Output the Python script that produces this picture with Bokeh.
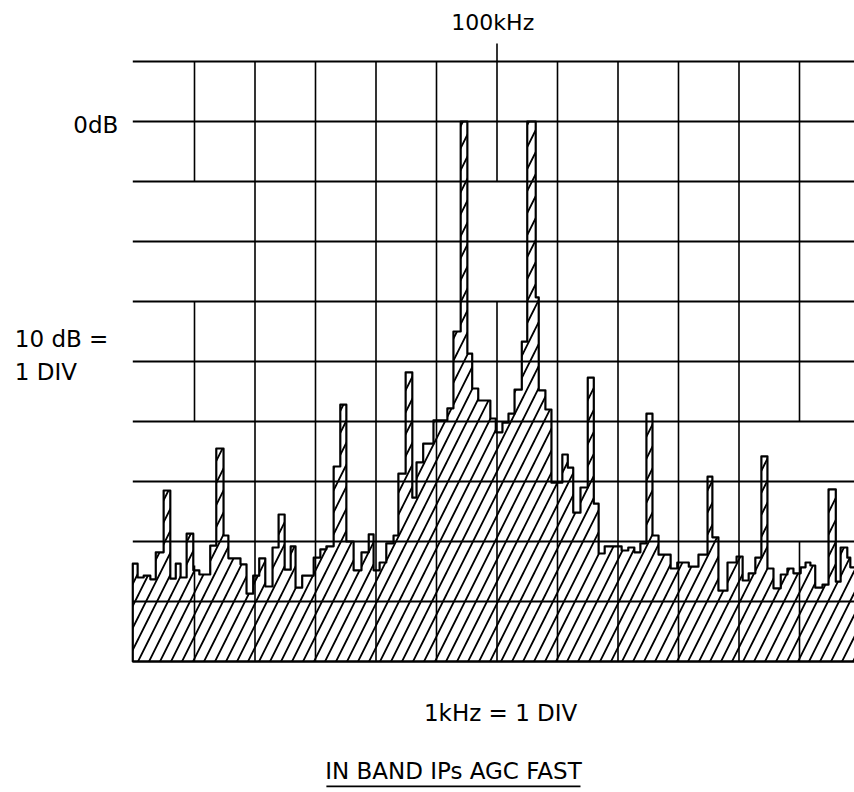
import numpy as np
from bokeh.plotting import figure
from bokeh.models import Range1d
from bokeh.embed import file_html
from bokeh.resources import INLINE
from bokeh.core.properties import value

# ---------------- data (kHz offset from 100 kHz, level in dB) ----------------
edges_khz = [-6.02, -5.94, -5.84, -5.73, -5.64, -5.51, -5.40, -5.31, -5.23, -5.13,
             -5.02, -4.92, -4.74, -4.64, -4.52, -4.44, -4.24, -4.14, -4.03, -3.93,
             -3.83, -3.71, -3.61, -3.51, -3.41, -3.33, -3.22, -3.03, -2.92, -2.82,
             -2.70, -2.59, -2.49, -2.37, -2.24, -2.12, -2.04, -1.94, -1.83, -1.71,
             -1.63, -1.51, -1.40, -1.33, -1.22, -1.05, -0.82, -0.72, -0.60, -0.49,
             -0.41, -0.31, -0.11, -0.02, 0.09, 0.19, 0.29, 0.41, 0.50, 0.64,
             0.69, 0.80, 0.90, 1.08, 1.17, 1.26, 1.38, 1.50, 1.60, 1.68,
             1.78, 2.06, 2.17, 2.27, 2.37, 2.47, 2.57, 2.67, 2.87, 2.98,
             3.17, 3.33, 3.48, 3.56, 3.66, 3.81, 3.96, 4.06, 4.16, 4.27,
             4.37, 4.47, 4.57, 4.69, 4.80, 4.90, 5.02, 5.10, 5.18, 5.26,
             5.38, 5.48, 5.60, 5.68, 5.79, 5.84, 5.95]

level_db = [-73.7, -76.0, -75.7, -76.3, -71.8, -61.5, -76.2, -73.7, -76.0, -68.7,
            -74.8, -75.5, -70.7, -54.5, -69.0, -72.8, -73.8, -78.7, -75.7, -72.8,
            -77.5, -71.0, -65.5, -74.7, -70.8, -77.7, -75.7, -72.7, -71.3, -70.8,
            -57.5, -47.2, -70.0, -74.8, -71.8, -68.8, -74.8, -73.5, -70.3, -69.0,
            -58.7, -41.8, -62.7, -56.8, -53.7, -49.8, -47.8, -35.0, 0.0, -38.7,
            -44.5, -46.5, -49.5, -51.8, -50.2, -48.7, -44.7, -36.7, 0.0, -29.3,
            -44.8, -48.0, -60.2, -55.5, -57.7, -65.2, -61.0, -42.7, -63.7, -72.0,
            -70.8, -71.5, -71.0, -71.8, -70.3, -48.7, -69.0, -72.2, -74.5, -73.5,
            -74.2, -72.2, -59.2, -69.3, -78.2, -73.5, -72.5, -76.5, -75.3, -72.7,
            -55.8, -74.5, -77.8, -75.5, -74.5, -75.3, -74.3, -73.5, -74.0, -77.7,
            -77.2, -61.3, -76.7, -71.0, -72.7, -74.3]

floor_db = -90.0
h_lines_db = [10, 0, -10, -20, -30, -40, -50, -60, -70, -80, -90]
grid_left_khz = -6.02
grid_right_khz = 5.95

# vertical graticule pieces as drawn (x in kHz, from dB, to dB)
v_seg_khz = [-5, -5, -5, -4, -3, -2, -1, 0, 0, 1, 2, 3, 4, 5, 5]
v_seg_from = [-10, -50, -90, -90, -90, -90, -90, -30, -90, -90, -90, -90, -90, -50, -90]
v_seg_to = [10, -30, -74, 10, 10, 10, 10, -90, 13, 10, 10, 10, 10, 10, -70]
# the centre line is broken between -10 and -30 dB
v_gap_centre = (-10, -30)

# ---------------- figure ----------------
PX_PER_KHZ = 60.5
PX_PER_DB = 6.0
X0_PX = 496.5
Y0_PX = 121.0
W, H = 854, 792

p = figure(width=W, height=H, output_backend="svg", toolbar_location=None,
           x_range=Range1d(-X0_PX / PX_PER_KHZ, (W - X0_PX) / PX_PER_KHZ),
           y_range=Range1d(-(H - Y0_PX) / PX_PER_DB, Y0_PX / PX_PER_DB),
           min_border=0)
p.axis.visible = False
p.grid.visible = False
p.outline_line_color = None
p.background_fill_color = "white"
p.border_fill_color = "white"

# step outline polygon of the spectrum
xs = [edges_khz[0]]
ys = [floor_db]
for i, lv in enumerate(level_db):
    xs += [edges_khz[i], edges_khz[i + 1]]
    ys += [lv, lv]
xs.append(edges_khz[-1])
ys.append(floor_db)

p.patch(xs, ys, fill_color=None, hatch_pattern="/", hatch_color="black",
        hatch_weight=1.8, hatch_scale=22, line_color="black", line_width=2.2,
        line_join="round")

# grid
hx0 = [grid_left_khz] * len(h_lines_db)
hx1 = [grid_right_khz] * len(h_lines_db)
p.segment(hx0, h_lines_db, hx1, h_lines_db, line_color="black", line_width=1.8)

# centre line: build its two pieces around the gap
vx0, vy0, vx1, vy1 = [], [], [], []
for x, a, b in zip(v_seg_khz, v_seg_from, v_seg_to):
    if x == 0 and b == 13:
        vx0 += [x, x]; vy0 += [v_gap_centre[0], a]
        vx1 += [x, x]; vy1 += [b, a]
        continue
    if x == 0 and b == -90:
        continue
    vx0.append(x); vy0.append(a); vx1.append(x); vy1.append(b)
# centre: -90 .. -30 and -10 .. +13
vx0 += [0]; vy0 += [floor_db]; vx1 += [0]; vy1 += [v_gap_centre[1]]
p.segment(vx0, vy0, vx1, vy1, line_color="black", line_width=1.6)

font = value("DejaVu Sans")
fs = "22px"
p.text(x=[-0.07], y=[16.5], text=["100kHz"], text_font=font, text_font_size=fs,
       text_align="center", text_baseline="middle", text_color="black")
p.text(x=[-6.26], y=[-0.5], text=["0dB"], text_font=font, text_font_size="23px",
       text_align="right", text_baseline="middle", text_color="black")
p.text(x=[-7.97, -7.97], y=[-36.3, -41.8], text=["10 dB =", "1 DIV"], text_font=font,
       text_font_size="23px", text_align="left", text_baseline="middle", text_color="black")
p.text(x=[0.06], y=[-98.5], text=["1kHz = 1 DIV"], text_font=font, text_font_size="23px",
       text_align="center", text_baseline="middle", text_color="black")
p.text(x=[-0.72], y=[-108.2], text=["IN BAND IPs AGC FAST"], text_font=font,
       text_font_size="23px", text_align="center", text_baseline="middle", text_color="black")
p.segment([-2.82], [-110.8], [1.38], [-110.8], line_color="black", line_width=1.8)

open("out.html", "w").write(file_html(p, INLINE))
